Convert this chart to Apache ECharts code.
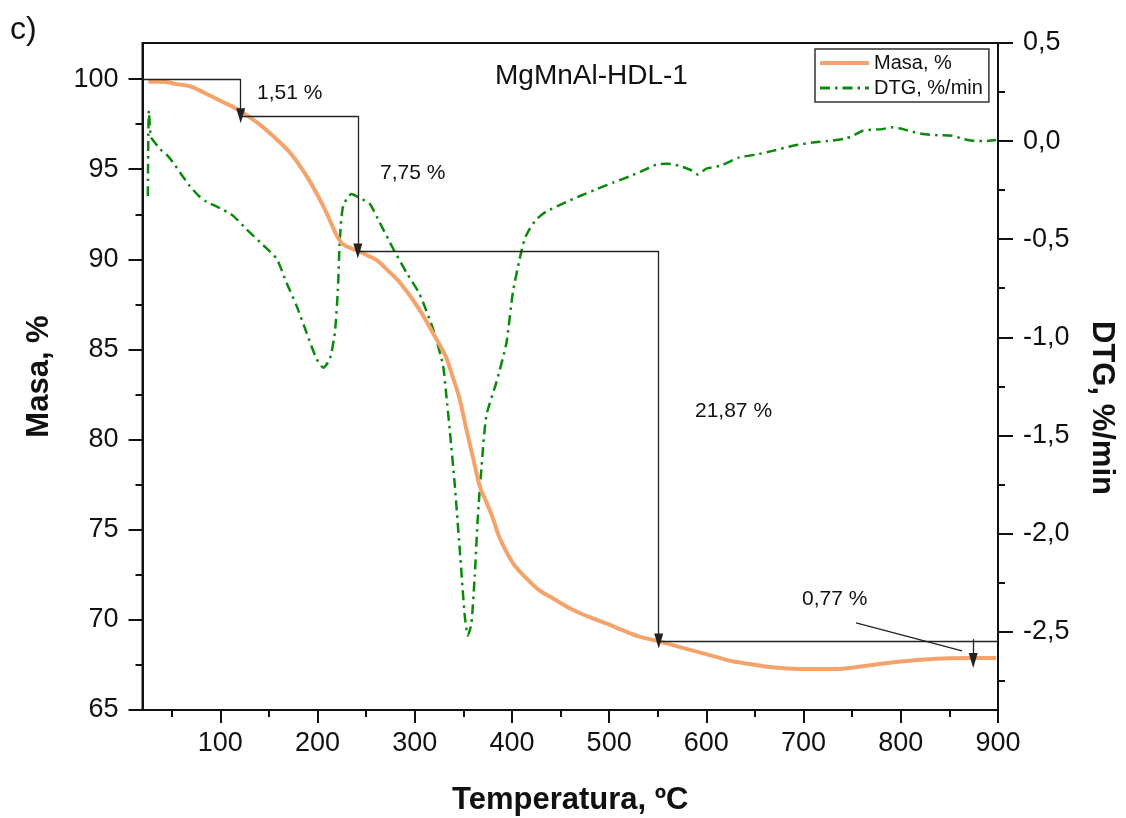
<!DOCTYPE html>
<html>
<head>
<meta charset="utf-8">
<script src="https://cdn.jsdelivr.net/npm/echarts@6/dist/echarts.min.js"></script>
<style>
  html, body { margin: 0; padding: 0; background: #fff; }
  #chart { width: 1126px; height: 818px; }
</style>
</head>
<body>
<div id="chart"></div>
<script>
// Masa (TG) curve, temperature in ºC
const masaTemp = [26, 41, 55, 69, 85, 100, 120, 140, 154, 172, 189, 206, 214, 220, 226, 235, 243, 252, 261, 272, 285, 305, 322, 332, 339, 346, 353, 360, 367, 374, 380, 387, 401, 415, 428, 445, 463, 480, 497, 515, 531, 552, 572, 593, 610, 627, 645, 662, 680, 696, 716, 737, 755, 771, 793, 816, 833, 850, 875, 898]
const masaVal = [99.85, 99.85, 99.72, 99.6, 99.2, 98.8, 98.25, 97.5, 96.85, 95.9, 94.6, 92.95, 92.0, 91.3, 90.85, 90.6, 90.45, 90.2, 89.95, 89.4, 88.7, 87.2, 85.6, 84.6, 83.5, 82.3, 80.6, 79.0, 77.4, 76.5, 75.7, 74.6, 73.15, 72.3, 71.65, 71.1, 70.55, 70.15, 69.8, 69.4, 69.07, 68.8, 68.5, 68.2, 67.95, 67.7, 67.55, 67.4, 67.32, 67.28, 67.27, 67.28, 67.38, 67.5, 67.65, 67.78, 67.83, 67.87, 67.88, 67.88]

// DTG curve, %/min
const dtgTemp = [25.5, 26.5, 28.5, 30, 38, 45, 51.6, 60, 68.8, 78, 86, 95, 103, 113, 127, 144, 158, 168, 178.5, 189, 199, 206, 212.7, 217.8, 221, 223, 226.4, 235, 243.5, 253.8, 264, 278, 291.5, 305, 319, 329, 332.6, 336, 341, 346.3, 351.5, 354.8, 358.3, 361.7, 365, 368.6, 373.7, 384, 394.3, 401, 408, 413, 418, 425, 435, 456, 470, 487, 505, 521, 535, 548.5, 560, 572, 585, 591, 600, 615, 634, 650, 668, 689, 709, 725, 744, 752, 761, 781, 790, 798.5, 810, 822.5, 838, 853, 865, 874, 885, 898]
const dtgVal = [-0.28, 0.155, 0.02, 0.01, -0.04, -0.07, -0.11, -0.17, -0.23, -0.28, -0.31, -0.33, -0.35, -0.38, -0.45, -0.53, -0.6, -0.72, -0.84, -0.98, -1.11, -1.155, -1.11, -0.98, -0.755, -0.5, -0.33, -0.27, -0.29, -0.32, -0.415, -0.55, -0.67, -0.78, -0.96, -1.14, -1.3, -1.47, -1.74, -2.08, -2.42, -2.52, -2.46, -2.22, -1.91, -1.67, -1.4, -1.23, -1.03, -0.77, -0.6, -0.5, -0.45, -0.4, -0.36, -0.31, -0.28, -0.245, -0.21, -0.18, -0.15, -0.12, -0.115, -0.126, -0.15, -0.17, -0.14, -0.125, -0.083, -0.07, -0.05, -0.024, -0.007, 0.0, 0.014, 0.03, 0.053, 0.061, 0.07, 0.065, 0.05, 0.036, 0.03, 0.027, 0.01, 0.002, 0.0, 0.005]

// mass loss steps: arrow temperatures and mass levels
const stepTemp = [121, 241.5, 551, 874.5]
const stepLevel = [100, 97.96, 90.46, 68.83]
const lastArrowEnd = 67.75
const stepLabels = ['1,51 %', '7,75 %', '21,87 %', '0,77 %']

// axis ticks
const xTicks = [100, 200, 300, 400, 500, 600, 700, 800, 900]
const xMinor = [50, 150, 250, 350, 450, 550, 650, 750, 850]
const masaTicks = [65, 70, 75, 80, 85, 90, 95, 100]
const masaMinor = [67.5, 72.5, 77.5, 82.5, 87.5, 92.5, 97.5]
const dtgTicks = [-2.5, -2, -1.5, -1, -0.5, 0, 0.5]
const dtgMinor = [-2.75, -2.25, -1.75, -1.25, -0.75, -0.25, 0.25]

const FONT = 'Arial, "Liberation Sans", sans-serif'
const INK = '#111'
const ORANGE = '#F5A26B'
const GREEN = '#0A8A0A'
const DASH_DOT = [10, 5, 2.5, 5]

const chart = echarts.init(document.getElementById('chart'), null, { renderer: 'canvas' })

function arrowLine(x1, y1, x2, y2) {
  return [
    { coord: [x1, y1], symbol: 'none' },
    { coord: [x2, y2], symbol: 'triangle', symbolSize: [9, 15] }
  ]
}
function plainLine(x1, y1, x2, y2) {
  return [
    { coord: [x1, y1], symbol: 'none' },
    { coord: [x2, y2], symbol: 'none' }
  ]
}

// step annotation lines built from the step arrays
const stepLines = []
stepLines.push(plainLine(20, stepLevel[0], stepTemp[0], stepLevel[0]))
for (let i = 0; i < 3; i++) {
  stepLines.push(arrowLine(stepTemp[i], stepLevel[i], stepTemp[i], stepLevel[i + 1]))
  stepLines.push(plainLine(stepTemp[i], stepLevel[i + 1], i < 2 ? stepTemp[i + 1] : 900, stepLevel[i + 1]))
}
stepLines.push(arrowLine(stepTemp[3], stepLevel[3] + 0.1, stepTemp[3], lastArrowEnd))
stepLines.push(plainLine(754, 69.83, 863, 68.28))

function valueAxis(opts) {
  return Object.assign({
    type: 'value',
    splitLine: { show: false },
    axisLine: { show: true, onZero: false, lineStyle: { color: INK, width: 2 } },
    axisTick: { show: true, length: 14, lineStyle: { color: INK, width: 2 } },
    axisLabel: { color: INK, fontSize: 27, fontFamily: FONT },
    nameTextStyle: { color: INK, fontSize: 31, fontWeight: 'bold', fontFamily: FONT }
  }, opts)
}

function minorAxis(opts, values) {
  return Object.assign({
    type: 'value',
    splitLine: { show: false },
    axisLine: { show: false, onZero: false },
    axisLabel: { show: false },
    axisTick: { show: true, length: 7, lineStyle: { color: INK, width: 2 }, customValues: values }
  }, opts)
}

const option = {
  backgroundColor: '#fff',
  animation: false,
  textStyle: { fontFamily: FONT },
  grid: {
    left: 142.5, right: 128, top: 43, bottom: 108,
    outerBoundsMode: 'none', containLabel: false,
    show: true, borderColor: INK, borderWidth: 2, backgroundColor: 'transparent'
  },
  title: {
    text: 'MgMnAl-HDL-1',
    left: 490, top: 57,
    textStyle: { color: INK, fontSize: 28, fontWeight: 'normal', fontFamily: FONT }
  },
  legend: {
    left: 815, top: 49,
    orient: 'vertical',
    itemWidth: 49, itemHeight: 14, itemGap: 5,
    padding: [4, 6, 4, 3],
    borderColor: '#333', borderWidth: 1.5,
    itemStyle: { color: 'transparent', borderWidth: 0, opacity: 0 },
    textStyle: { color: INK, fontSize: 20, fontFamily: FONT },
    data: [
      { name: 'Masa, %', lineStyle: { color: ORANGE, width: 4 } },
      { name: 'DTG, %/min', lineStyle: { color: GREEN, width: 3, type: DASH_DOT } }
    ]
  },
  xAxis: [
    valueAxis({
      min: 20, max: 900, position: 'bottom',
      axisTick: { show: true, length: 13, lineStyle: { color: INK, width: 2 }, customValues: xTicks },
      axisLabel: { color: INK, fontSize: 27, fontFamily: FONT, margin: 20, customValues: xTicks },
      name: 'Temperatura, ºC', nameLocation: 'middle', nameGap: 75
    }),
    minorAxis({ min: 20, max: 900, position: 'bottom' }, xMinor)
  ],
  yAxis: [
    valueAxis({
      min: 65, max: 102, position: 'left',
      axisTick: { show: true, length: 14, lineStyle: { color: INK, width: 2 }, customValues: masaTicks },
      axisLabel: { color: INK, fontSize: 27, fontFamily: FONT, margin: 24, customValues: masaTicks },
      name: 'Masa, %', nameLocation: 'middle', nameGap: 88
    }),
    valueAxis({
      min: -2.9, max: 0.5, position: 'right',
      axisTick: { show: true, length: 15, lineStyle: { color: INK, width: 2 }, customValues: dtgTicks },
      axisLabel: {
        color: INK, fontSize: 27, fontFamily: FONT, margin: 25, customValues: dtgTicks,
        formatter: v => v.toFixed(1).replace('.', ',')
      }
    }),
    minorAxis({ min: 65, max: 102, position: 'left' }, masaMinor),
    minorAxis({ min: -2.9, max: 0.5, position: 'right' }, dtgMinor)
  ],
  graphic: [
    { type: 'text', left: 10, top: 14, style: { text: 'c)', fontSize: 32, fontFamily: FONT, fill: INK } },
    { type: 'text', x: 257, y: 93, style: { text: stepLabels[0], fontSize: 21, fontFamily: FONT, fill: INK, verticalAlign: 'middle' } },
    { type: 'text', x: 380, y: 173, style: { text: stepLabels[1], fontSize: 21, fontFamily: FONT, fill: INK, verticalAlign: 'middle' } },
    { type: 'text', x: 695, y: 411, style: { text: stepLabels[2], fontSize: 21, fontFamily: FONT, fill: INK, verticalAlign: 'middle' } },
    { type: 'text', x: 802, y: 599, style: { text: stepLabels[3], fontSize: 21, fontFamily: FONT, fill: INK, verticalAlign: 'middle' } },
    {
      type: 'text', x: 1102, y: 408, rotation: -Math.PI / 2,
      style: { text: 'DTG, %/min', fontSize: 31, fontWeight: 'bold', fontFamily: FONT, fill: INK, align: 'center', verticalAlign: 'middle' }
    }
  ],
  series: [
    {
      name: 'Masa, %',
      type: 'line',
      xAxisIndex: 0, yAxisIndex: 0,
      showSymbol: false, symbol: 'none',
      smooth: 0.3,
      lineStyle: { color: ORANGE, width: 4 },
      itemStyle: { color: ORANGE },
      data: masaTemp.map((t, i) => [t, masaVal[i]]),
      markLine: {
        silent: true,
        symbol: ['none', 'none'],
        label: { show: false },
        lineStyle: { color: '#222', width: 1.3, type: 'solid' },
        emphasis: { disabled: true },
        data: stepLines
      },
      z: 3
    },
    {
      name: 'DTG, %/min',
      type: 'line',
      xAxisIndex: 0, yAxisIndex: 1,
      showSymbol: false, symbol: 'none',
      smooth: 0.2,
      lineStyle: { color: GREEN, width: 2.5, type: DASH_DOT },
      itemStyle: { color: GREEN },
      data: dtgTemp.map((t, i) => [t, dtgVal[i]]),
      z: 2
    }
  ]
}

chart.setOption(option)
</script>
</body>
</html>
